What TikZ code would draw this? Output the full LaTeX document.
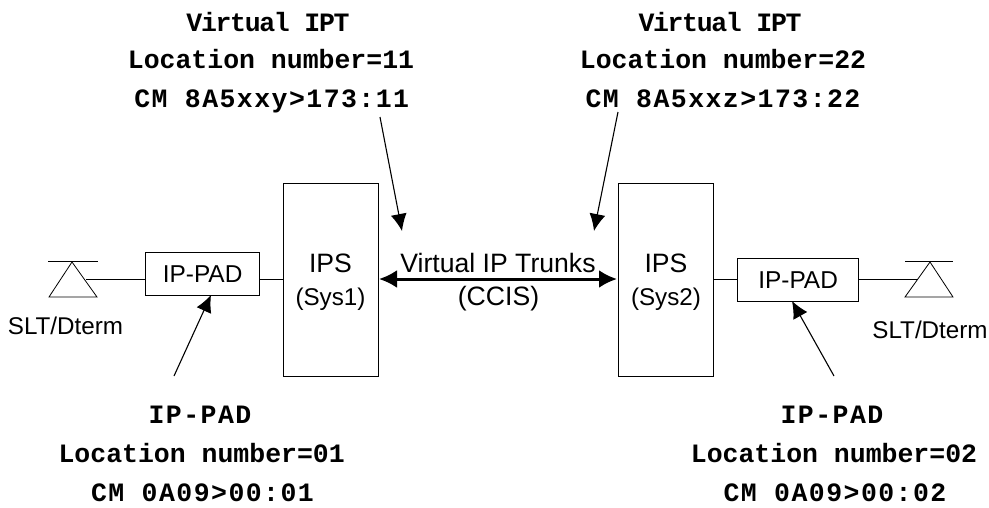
\documentclass[tikz,border=0pt]{standalone}
\usepackage{fontspec}
\setmainfont{Liberation Sans}
\newfontfamily\monoa{Liberation Mono Bold}
\usetikzlibrary{arrows.meta}
\begin{document}
\begin{tikzpicture}[x=1pt,y=-1pt,
  box/.style={draw,line width=1.2pt,inner sep=0pt,anchor=north west,font=\fontsize{24.4}{28}\selectfont},
  wire/.style={line width=0.8pt},
  pointer/.style={line width=1.1pt,-{Latex[length=17pt,width=16pt]}},
  trunk/.style={line width=3pt,{Latex[length=18pt,width=18pt]}-{Latex[length=18pt,width=18pt]}},
  lbl/.style={inner sep=0pt,anchor=base,align=center},
  big/.style={lbl,font=\fontsize{26.6}{28}\selectfont},
  small/.style={lbl,font=\fontsize{24.2}{28}\selectfont},
  note/.style={lbl,font=\monoa\fontsize{26.5}{28}\selectfont},
  tight/.style={note,font=\monoa\fontsize{26.5}{28}\selectfont\addfontfeature{LetterSpace=-5}},
  wide/.style={note,font=\monoa\fontsize{26.5}{28}\selectfont\addfontfeature{LetterSpace=5.5}}]
\useasboundingbox (0,0) rectangle (989,507);
\node[box,minimum width=95pt,minimum height=192.5pt] (ips1) at (283,183) {};
\node[box,minimum width=95pt,minimum height=192.5pt] (ips2) at (618,183) {};
\node[box,minimum width=114pt,minimum height=42.5pt] (pad1) at (145,252) {IP-PAD};
\node[box,minimum width=121pt,minimum height=42.5pt] (pad2) at (737,258) {IP-PAD};
\node[big] (t1) at (330.5,272.7) {IPS};
\node[small] (t2) at (330.5,305) {(Sys1)};
\node[big] (t3) at (666,272.7) {IPS};
\node[small] (t4) at (666,305) {(Sys2)};
% terminals
\coordinate (a1) at (72,262); \coordinate (a2) at (930,262);
\draw[wire] (48,261) -- (98,261);
\draw[wire] (a1) -- (97,297) -- (49,297) -- cycle;
\draw[wire] (905,261) -- (953,261);
\draw[wire] (a2) -- (953,297) -- (905,297) -- cycle;
\coordinate (w1) at (86,279); \coordinate (w2) at (917,279);
\draw[wire] (w1) -- (145,279);
\draw[wire] (259,279) -- (283,279);
\draw[wire] (713,279) -- (737,279);
\draw[wire] (858,279) -- (w2);
\coordinate (tl) at (379,279); \coordinate (tr) at (617,279);
\draw[trunk] (tl) -- (tr);
\node[big] (vt) at (498,272) {Virtual IP Trunks};
\node[big] (cc) at (498.5,305) {(CCIS)};
\node[small] (s1) at (65.5,334) {SLT/Dterm};
\node[small] (s2) at (930,338) {SLT/Dterm};
\coordinate (p1) at (380,117); \coordinate (q1) at (402,231);
\coordinate (p2) at (618,112); \coordinate (q2) at (594,231);
\coordinate (p3) at (174,376); \coordinate (q3) at (211,295);
\coordinate (p4) at (834,376); \coordinate (q4) at (792,301);
\draw[pointer] (p1) -- (q1);
\draw[pointer] (p2) -- (q2);
\draw[pointer] (p3) -- (q3);
\draw[pointer] (p4) -- (q4);
\node[tight] (n1) at (268,31) {Virtual IPT};
\node[note] (n2) at (271,68) {Location number=11};
\node[wide] (n3) at (271.7,107) {CM 8A5xxy>173:11};
\node[tight] (n4) at (720,31) {Virtual IPT};
\node[note] (n5) at (723,68) {Location number=22};
\node[wide] (n6) at (723,107) {CM 8A5xxz>173:22};
\node[wide] (n7) at (200,423) {IP-PAD};
\node[note] (n8) at (201.7,462) {Location number=01};
\node[wide] (n9) at (202.5,501) {CM 0A09>00:01};
\node[wide] (n10) at (832,423) {IP-PAD};
\node[note] (n11) at (834,462) {Location number=02};
\node[wide] (n12) at (835,501) {CM 0A09>00:02};
\end{tikzpicture}
\end{document}
